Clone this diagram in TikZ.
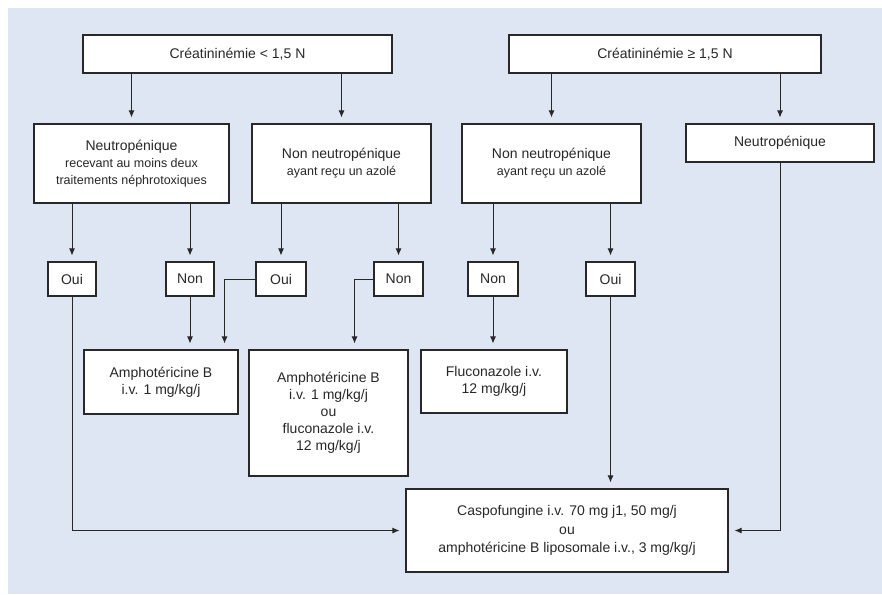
\documentclass[tikz,border=0pt]{standalone}
\usepackage{fontspec}
\setmainfont{Liberation Sans}
\usetikzlibrary{arrows.meta}
\definecolor{panelblue}{RGB}{223,230,243}
\definecolor{inkgray}{RGB}{40,40,40}
\tikzset{
    box/.style={draw=inkgray, line width=1.1pt, fill=white, align=center, inner sep=2pt,
        text=inkgray, font=\fontsize{14}{17}\selectfont},
    arr/.style={draw=inkgray, line width=0.9pt, -{Latex[length=7pt,width=6pt]}, shorten >=6pt},
}
\newcommand{\smalltxt}[1]{{\fontsize{12.5}{15}\selectfont #1}}

\begin{document}
\begin{tikzpicture}[x=1pt, y=-1pt]
    \useasboundingbox (0,0) rectangle (882,594);
    \fill[panelblue] (8,8) rectangle (882,594);

    \node[box, minimum width=309pt, minimum height=38pt] (lowcr) at (237.5,54) {Créatininémie < 1,5 N};
    \node[box, minimum width=312pt, minimum height=38pt] (highcr) at (665,54) {Créatininémie ≥ 1,5 N};

    \node[box, minimum width=195pt, minimum height=79pt] (neutA) at (131.5,163.5)
        {Neutropénique\\ \smalltxt{recevant au moins deux}\\ \smalltxt{traitements néphrotoxiques}};
    \node[box, minimum width=179pt, minimum height=79pt] (nonA) at (341.5,163.5)
        {Non neutropénique\\ \smalltxt{ayant reçu un azolé}};
    \node[box, minimum width=179pt, minimum height=79pt] (nonB) at (551.5,163.5)
        {Non neutropénique\\ \smalltxt{ayant reçu un azolé}};
    \node[box, minimum width=188pt, minimum height=38pt] (neutB) at (780,143) {Neutropénique};

    \node[box, minimum width=48pt, minimum height=34pt] (yesA) at (72,279) {Oui};
    \node[box, minimum width=48pt, minimum height=34pt] (noA) at (190,279) {Non};
    \node[box, minimum width=50pt, minimum height=34pt] (yesB) at (281,279) {Oui};
    \node[box, minimum width=49pt, minimum height=34pt] (noB) at (398.5,279) {Non};
    \node[box, minimum width=50pt, minimum height=34pt] (noC) at (493,279) {Non};
    \node[box, minimum width=49pt, minimum height=34pt] (yesC) at (610.5,279) {Oui};

    \node[box, minimum width=154pt, minimum height=64pt] (amphoA) at (161,382)
        {Amphotéricine B\\ i.v. 1 mg/kg/j};
    \node[box, minimum width=159pt, minimum height=126pt] (amphoB) at (328.5,413)
        {Amphotéricine B\\ i.v. 1 mg/kg/j\\ ou\\ fluconazole i.v.\\ 12 mg/kg/j};
    \node[box, minimum width=146pt, minimum height=63pt] (fluco) at (494,381.5)
        {Fluconazole i.v.\\ 12 mg/kg/j};
    \node[box, minimum width=322pt, minimum height=83pt, font=\fontsize{14}{18.5}\selectfont] (caspo) at (567,530.5)
        {Caspofungine i.v. 70 mg j1, 50 mg/j\\ ou\\ amphotéricine B liposomale i.v., 3 mg/kg/j};

    \draw[arr] (lowcr.south -| neutA) -- (neutA.north);
    \draw[arr] (lowcr.south -| nonA) -- (nonA.north);
    \draw[arr] (highcr.south -| nonB) -- (nonB.north);
    \draw[arr] (highcr.south -| neutB) -- (neutB.north);

    \draw[arr] (neutA.south -| yesA) -- (yesA.north);
    \draw[arr] (neutA.south -| noA) -- (noA.north);
    \draw[arr] (nonA.south -| yesB) -- (yesB.north);
    \draw[arr] (nonA.south -| noB) -- (noB.north);
    \draw[arr] (nonB.south -| noC) -- (noC.north);
    \draw[arr] (nonB.south -| yesC) -- (yesC.north);

    \draw[arr] (noA.south) -- (noA.south |- amphoA.north);
    \draw[arr] (yesB.west) -| ([xshift=-14pt]amphoA.north east);
    \draw[arr] (noB.west) -| ([xshift=-54pt]amphoB.north east);
    \draw[arr] (noC.south) -- (noC.south |- fluco.north);
    \draw[arr] (yesC.south) -- (yesC.south |- caspo.north);
    \draw[arr] (yesA.south) |- (caspo.west);
    \draw[arr] (neutB.south) |- (caspo.east);
\end{tikzpicture}
\end{document}
